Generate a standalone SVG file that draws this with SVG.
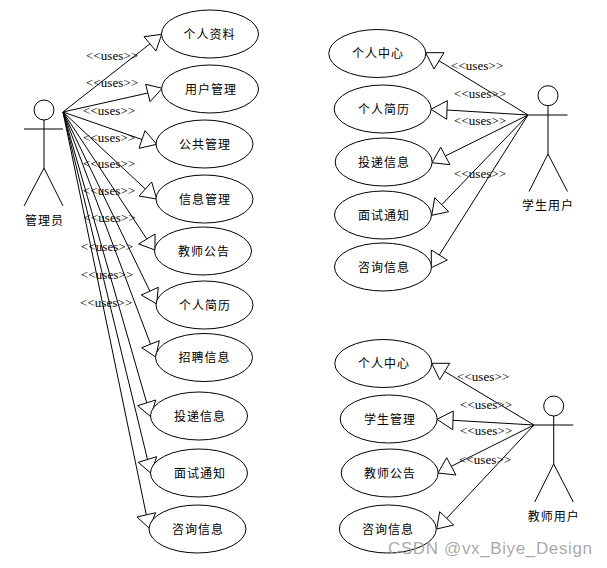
<svg xmlns="http://www.w3.org/2000/svg" width="607" height="568" viewBox="0 0 607 568">
<style>
.bg{fill:#fff}
ellipse{fill:#fff;stroke:#000;stroke-width:1}
.a line,.a circle{fill:#fff;stroke:#000;stroke-width:1}
#connectors line{stroke:#000;stroke-width:1}
#connectors polygon{fill:#fff;stroke:#000;stroke-width:1}
.t{font-family:"Noto Sans CJK SC","Noto Sans",sans-serif;font-size:12px;letter-spacing:1px;text-anchor:middle;fill:#000}
.u{font-family:"Liberation Serif",serif;font-size:13px;fill:#000}
.w{font-family:"Liberation Sans",sans-serif;font-size:17px;fill:#999;fill-opacity:.85}
</style>
<rect class="bg" width="607" height="568"/>
<g id="connectors">
<line x1="63" y1="112" x2="150" y2="43.8"/><polygon points="161.7,34.3 144,36.7 156,51"/>
<line x1="63" y1="112" x2="147.9" y2="93"/><polygon points="162.3,88.3 145.7,84.3 150,101.7"/>
<line x1="63" y1="112" x2="142" y2="139.5"/><polygon points="156.7,144.3 145,130.7 139,148.3"/>
<line x1="63" y1="112" x2="145.3" y2="189"/><polygon points="156.7,199 151.7,182 139,196"/>
<line x1="63" y1="112" x2="146.8" y2="239"/><polygon points="155,250 155,234 138.7,244"/>
<line x1="63" y1="112" x2="149.8" y2="291"/><polygon points="156.7,304 158.3,287.3 141.3,295"/>
<line x1="63" y1="112" x2="150.5" y2="344.2"/><polygon points="155.7,357 159.3,340.7 141.7,347.7"/>
<line x1="63" y1="112" x2="146.7" y2="402.8"/><polygon points="150.7,416.7 155.7,400 137.7,405.7"/>
<line x1="63" y1="112" x2="147.5" y2="459.5"/><polygon points="151,473.3 156.7,456.7 138.3,462.3"/>
<line x1="63" y1="112" x2="146.3" y2="514.8"/><polygon points="149.3,528.3 155.7,512.7 137,517"/>
<line x1="528" y1="115" x2="439" y2="60.8"/><polygon points="425.7,52.7 444,52.7 434,69"/>
<line x1="528" y1="115" x2="447" y2="110"/><polygon points="431,109.3 447.3,100.7 446.7,119.3"/>
<line x1="528" y1="115" x2="445.3" y2="156"/><polygon points="432,162.7 450,164.7 440.7,147.3"/>
<line x1="528" y1="115" x2="441.7" y2="204.7"/><polygon points="431.7,215.3 448.7,211.7 434.7,197.7"/>
<line x1="528" y1="115" x2="439.3" y2="255"/><polygon points="431.3,267.7 447.3,260 431.3,250"/>
<line x1="534" y1="425" x2="444.7" y2="371.5"/><polygon points="431.7,363.3 449.7,363.3 439.7,379.7"/>
<line x1="534" y1="425" x2="453" y2="420.3"/><polygon points="437,419.3 453.3,411 452.7,429.7"/>
<line x1="534" y1="425" x2="451.3" y2="466.3"/><polygon points="438,473 456,475 446.7,457.7"/>
<line x1="534" y1="425" x2="446.7" y2="518.3"/><polygon points="436.7,529 453.7,525 439.7,511.7"/>
<g>
<text class="u" x="86" y="60" textLength="52">&lt;&lt;uses&gt;&gt;</text>
<text class="u" x="86" y="87" textLength="52">&lt;&lt;uses&gt;&gt;</text>
<text class="u" x="83" y="115" textLength="52">&lt;&lt;uses&gt;&gt;</text>
<text class="u" x="83" y="142" textLength="52">&lt;&lt;uses&gt;&gt;</text>
<text class="u" x="83" y="168" textLength="52">&lt;&lt;uses&gt;&gt;</text>
<text class="u" x="83" y="195" textLength="52">&lt;&lt;uses&gt;&gt;</text>
<text class="u" x="83.5" y="222" textLength="52">&lt;&lt;uses&gt;&gt;</text>
<text class="u" x="81" y="251" textLength="52">&lt;&lt;uses&gt;&gt;</text>
<text class="u" x="81" y="279" textLength="52">&lt;&lt;uses&gt;&gt;</text>
<text class="u" x="80" y="307" textLength="52">&lt;&lt;uses&gt;&gt;</text>
<text class="u" x="451" y="70" textLength="52">&lt;&lt;uses&gt;&gt;</text>
<text class="u" x="454" y="98" textLength="52">&lt;&lt;uses&gt;&gt;</text>
<text class="u" x="454" y="125" textLength="52">&lt;&lt;uses&gt;&gt;</text>
<text class="u" x="454" y="178" textLength="52">&lt;&lt;uses&gt;&gt;</text>
<text class="u" x="457" y="381" textLength="52">&lt;&lt;uses&gt;&gt;</text>
<text class="u" x="460" y="409" textLength="52">&lt;&lt;uses&gt;&gt;</text>
<text class="u" x="460" y="435" textLength="52">&lt;&lt;uses&gt;&gt;</text>
<text class="u" x="459" y="464" textLength="52">&lt;&lt;uses&gt;&gt;</text>
</g>
</g>
<g id="actor-admin" class="a"><circle cx="44" cy="110" r="10"/><line x1="24" y1="129" x2="63" y2="129"/><line x1="44" y1="120" x2="44" y2="168"/><line x1="44" y1="168" x2="24" y2="206"/><line x1="44" y1="168" x2="63" y2="206"/><text class="t" x="44.5" y="225">管理员</text></g>
<g id="actor-student" class="a"><circle cx="548" cy="95.7" r="10"/><line x1="528" y1="115" x2="567.5" y2="115"/><line x1="548" y1="105.7" x2="548" y2="154"/><line x1="548" y1="154" x2="529" y2="191.5"/><line x1="548" y1="154" x2="567.5" y2="191.5"/><text class="t" x="548" y="210">学生用户</text></g>
<g id="actor-teacher" class="a"><circle cx="553.7" cy="406" r="10"/><line x1="534" y1="425" x2="573.3" y2="425"/><line x1="553.7" y1="416" x2="553.7" y2="464"/><line x1="553.7" y1="464" x2="534.7" y2="502"/><line x1="553.7" y1="464" x2="573.3" y2="502"/><text class="t" x="553.7" y="521">教师用户</text></g>
<g id="uc1"><ellipse cx="210" cy="34" rx="48.5" ry="24"/><text class="t" x="209.5" y="38.5">个人资料</text></g>
<g id="uc2"><ellipse cx="210" cy="89" rx="48.5" ry="24"/><text class="t" x="211" y="93.5">用户管理</text></g>
<g id="uc3"><ellipse cx="204.5" cy="144" rx="48.5" ry="24"/><text class="t" x="205" y="148.5">公共管理</text></g>
<g id="uc4"><ellipse cx="204.5" cy="199" rx="48.5" ry="24"/><text class="t" x="205" y="203.5">信息管理</text></g>
<g id="uc5"><ellipse cx="203" cy="251" rx="48.5" ry="24"/><text class="t" x="204" y="255.5">教师公告</text></g>
<g id="uc6"><ellipse cx="204.5" cy="305" rx="48.5" ry="24"/><text class="t" x="205" y="309.5">个人简历</text></g>
<g id="uc7"><ellipse cx="204" cy="357.5" rx="48.5" ry="24"/><text class="t" x="204.5" y="362">招聘信息</text></g>
<g id="uc8"><ellipse cx="199" cy="416" rx="48.5" ry="24"/><text class="t" x="200" y="420.5">投递信息</text></g>
<g id="uc9"><ellipse cx="199" cy="473" rx="48.5" ry="24"/><text class="t" x="200" y="477.5">面试通知</text></g>
<g id="uc10"><ellipse cx="197.5" cy="529" rx="48.5" ry="24"/><text class="t" x="198" y="533.5">咨询信息</text></g>
<g id="uc11"><ellipse cx="377.3" cy="53.5" rx="48.5" ry="24"/><text class="t" x="378" y="58">个人中心</text></g>
<g id="uc12"><ellipse cx="382.7" cy="109" rx="48.5" ry="24"/><text class="t" x="384" y="113.5">个人简历</text></g>
<g id="uc13"><ellipse cx="383.7" cy="162" rx="48.5" ry="24"/><text class="t" x="384" y="166.5">投递信息</text></g>
<g id="uc14"><ellipse cx="383" cy="215" rx="48.5" ry="24"/><text class="t" x="384" y="219.5">面试通知</text></g>
<g id="uc15"><ellipse cx="383" cy="267" rx="48.5" ry="24"/><text class="t" x="384" y="271.5">咨询信息</text></g>
<g id="uc16"><ellipse cx="383.3" cy="363.5" rx="48.5" ry="24"/><text class="t" x="384" y="368">个人中心</text></g>
<g id="uc17"><ellipse cx="388.7" cy="419" rx="48.5" ry="24"/><text class="t" x="390" y="423.5">学生管理</text></g>
<g id="uc18"><ellipse cx="389.7" cy="473" rx="48.5" ry="24"/><text class="t" x="390" y="477.5">教师公告</text></g>
<g id="uc19"><ellipse cx="387.8" cy="529" rx="48.5" ry="24"/><text class="t" x="388" y="533.5">咨询信息</text></g>
<text class="w" x="388" y="554" textLength="204">CSDN @vx_Biye_Design</text>
</svg>
